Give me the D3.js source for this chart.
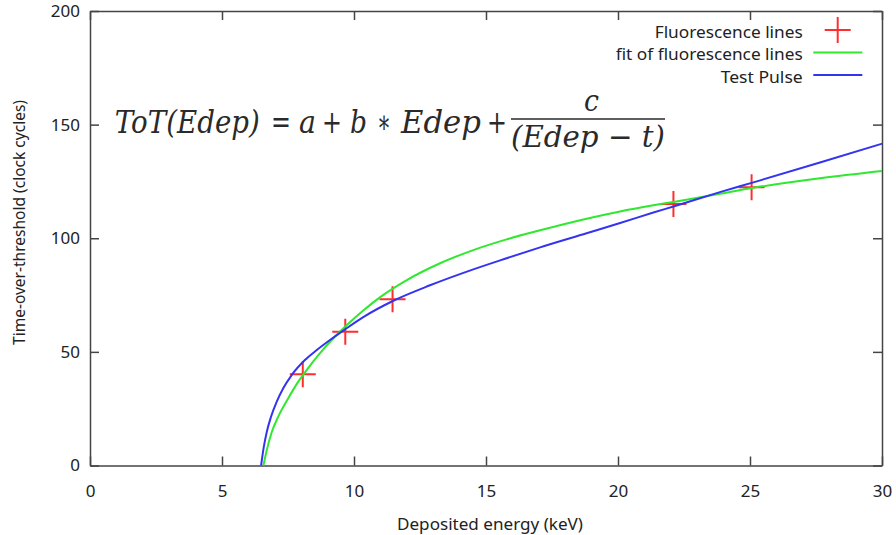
<!DOCTYPE html>
<html>
<head>
<meta charset="utf-8">
<script src="https://cdn.jsdelivr.net/npm/d3@7"></script>
<style>
  html, body { margin: 0; padding: 0; background: #fff; }
  svg { display: block; }
  text { font-family: "Noto Sans", "DejaVu Sans", sans-serif; fill: #222; }
  text.eq { font-family: "DejaVu Serif", serif; fill: #2a2a2a; }
</style>
</head>
<body>
<svg id="chart" width="896" height="535"></svg>
<script>
// Axis ticks
const energyTicks = [0, 5, 10, 15, 20, 25, 30];
const totTicks = [0, 50, 100, 150, 200];

// Measured fluorescence lines (keV, clock cycles)
const fluoEnergy = [8.06, 9.67, 11.46, 22.1, 25.06];
const fluoToT    = [40.1, 58.9, 73.2, 115.1, 122.4];

// Fit of the fluorescence lines, sampled along the curve
const fitEnergy = [6.57, 6.69, 6.88, 7.13, 7.51, 7.89, 8.27, 8.65, 9.22, 9.72, 10.35, 10.98, 12.0, 13.26,
                   14.52, 15.78, 17.05, 18.81, 20.08, 21.34, 22.1, 23.86, 25.13, 27.65, 30];
const fitToT    = [0, 6.5, 14.5, 21.5, 29.6, 36.9, 43.0, 48.6, 56.0, 61.7, 68.2, 74.0, 81.6, 89.0,
                   94.8, 99.5, 103.5, 108.6, 111.8, 114.5, 116.0, 119.6, 122.2, 126.4, 129.6];

// Test pulse calibration curve
const pulseEnergy = [6.48, 6.58, 6.70, 6.85, 7.07, 7.32, 7.64, 8.14, 8.59, 9.09, 9.66, 10.35, 11.49, 12.88,
                     14.52, 15.78, 17.05, 18.81, 20.08, 21.34, 22.1, 23.86, 25.13, 27.65, 30];
const pulseToT    = [0, 8.0, 15.0, 21.2, 28.0, 34.0, 39.8, 46.4, 50.8, 55.2, 59.9, 65.3, 72.5, 79.3,
                     86.3, 91.2, 96.0, 102.2, 106.7, 111.3, 114.0, 120.3, 124.6, 133.3, 141.6];

const legendLabels = ["Fluorescence lines", "fit of fluorescence lines", "Test Pulse"];
const xTitle = "Deposited energy (keV)";
const yTitle = "Time-over-threshold (clock cycles)";

const RED = "#ff2e2e", GREEN = "#2fe82f", BLUE = "#3434f0", FRAME = "#444";

const svg = d3.select("#chart");
const x = d3.scaleLinear().domain([0, 30]).range([90, 882]);
const y = d3.scaleLinear().domain([0, 200]).range([465.5, 11]);

// Frame with inward ticks on all four sides
function styleAxis(g) {
  g.select(".domain").attr("stroke", FRAME).attr("stroke-width", 1.5);
  g.selectAll(".tick line").attr("stroke", FRAME).attr("stroke-width", 1.5);
  g.selectAll(".tick text").attr("fill", "#222")
    .style("font-family", '"Noto Sans", "DejaVu Sans", sans-serif').style("font-size", "17px");
}
svg.append("g").attr("transform", `translate(0,${y(0)})`)
  .call(d3.axisBottom(x).tickValues(energyTicks).tickSizeInner(-9).tickSizeOuter(0).tickPadding(19.5))
  .call(styleAxis);
svg.append("g").attr("transform", `translate(${x(0)},0)`)
  .call(d3.axisLeft(y).tickValues(totTicks).tickSizeInner(-9).tickSizeOuter(0).tickPadding(10))
  .call(styleAxis);
svg.append("g").attr("transform", `translate(0,${y(200)})`)
  .call(d3.axisTop(x).tickValues(energyTicks).tickSizeInner(-9).tickSizeOuter(0).tickFormat(""))
  .call(styleAxis);
svg.append("g").attr("transform", `translate(${x(30)},0)`)
  .call(d3.axisRight(y).tickValues(totTicks).tickSizeInner(-9).tickSizeOuter(0).tickFormat(""))
  .call(styleAxis);

// Axis titles
svg.append("text").attr("x", 490).attr("y", 530).attr("text-anchor", "middle")
  .style("font-size", "17px").attr("textLength", 186).attr("lengthAdjust", "spacingAndGlyphs")
  .text(xTitle);
svg.append("text").attr("transform", "translate(25,222.5) rotate(-90)").attr("text-anchor", "middle")
  .style("font-size", "16px").attr("textLength", 245).attr("lengthAdjust", "spacingAndGlyphs")
  .text(yTitle);

// Calibration formula: each token is placed at its left edge and squeezed to its width
const eq = svg.append("g");
function eqText(str, left, base, width, size, italic) {
  const t = eq.append("text").attr("class", "eq").attr("x", 0).attr("y", 0)
    .style("font-size", size + "px").style("font-style", italic ? "italic" : "normal")
    .text(str);
  const natural = t.node().getComputedTextLength();
  const sx = width ? width / natural : 1;
  t.attr("transform", `translate(${left},${base}) scale(${sx},1)`);
  return t;
}
eqText("ToT(Edep)", 114.8, 133, 145, 32, true);
eqText("=", 271, 133, 20, 32, false);
eqText("a", 299, 133, 17, 32, true);
eqText("+", 322, 133, 20, 32, false);
eqText("b", 350, 133, 17, 32, true);
eqText("\u2217", 377, 133, 14, 32, false);
eqText("Edep", 401, 133, 80, 32, true);
eqText("+", 487, 133, 20, 32, false);
eqText("c", 584, 110.5, 15, 30, true);
eq.append("line").attr("x1", 511).attr("x2", 665).attr("y1", 119).attr("y2", 119)
  .attr("stroke", "#2a2a2a").attr("stroke-width", 1.6);
eqText("(Edep \u2212 t)", 511, 147, 154, 30, true);

// Data marks
const crossPath = (cx, cy, r) => `M${cx - r},${cy}H${cx + r}M${cx},${cy - r}V${cy + r}`;

svg.append("g").selectAll("path")
  .data(d3.range(fluoEnergy.length))
  .join("path")
  .attr("d", i => crossPath(x(fluoEnergy[i]), y(fluoToT[i]), 13))
  .attr("stroke", RED).attr("stroke-width", 2).attr("fill", "none");

const line = d3.line().x(d => x(d[0])).y(d => y(d[1])).curve(d3.curveMonotoneX);

svg.append("path").datum(d3.zip(fitEnergy, fitToT))
  .attr("d", line).attr("fill", "none").attr("stroke", GREEN).attr("stroke-width", 2);
svg.append("path").datum(d3.zip(pulseEnergy, pulseToT))
  .attr("d", line).attr("fill", "none").attr("stroke", BLUE).attr("stroke-width", 2);

// Legend
const legendY = [37.5, 60, 82.5];
const legendLens = [148, 187, 82];
const legend = svg.append("g");
legendLabels.forEach((lab, i) => {
  legend.append("text").attr("x", 802.7).attr("y", legendY[i]).attr("text-anchor", "end")
    .style("font-size", "17px").attr("textLength", legendLens[i]).attr("lengthAdjust", "spacingAndGlyphs")
    .text(lab);
});
legend.append("path").attr("d", crossPath(837.7, legendY[0] - 7.5, 13))
  .attr("stroke", RED).attr("stroke-width", 2).attr("fill", "none");
legend.append("line").attr("x1", 813.3).attr("x2", 862.3).attr("y1", legendY[1] - 7.5).attr("y2", legendY[1] - 7.5)
  .attr("stroke", GREEN).attr("stroke-width", 2);
legend.append("line").attr("x1", 813.3).attr("x2", 862.3).attr("y1", legendY[2] - 7.5).attr("y2", legendY[2] - 7.5)
  .attr("stroke", BLUE).attr("stroke-width", 2);
</script>
</body>
</html>
